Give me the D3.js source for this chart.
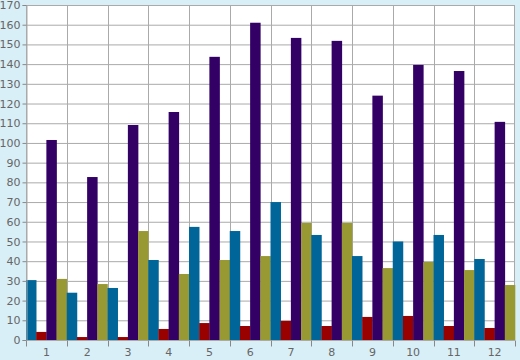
<!DOCTYPE html>
<html><head><meta charset="utf-8">
<script src="https://cdn.jsdelivr.net/npm/d3@7"></script>
<style>body{margin:0;background:#d9eff7;}svg{display:block;}</style>
</head><body>
<svg id="c" width="520" height="360"></svg>
<script>
const categories = ["1","2","3","4","5","6","7","8","9","10","11","12"];
const seriesNames = ["Teal","Red","Purple","Olive"];
const teal   = [30.4, 24, 26.4, 40.6, 57.4, 55.3, 70, 53.3, 42.6, 50, 53.3, 41.1];
const red    = [4.1, 1.5, 1.5, 5.6, 8.6, 7.1, 9.7, 7.1, 11.7, 12.2, 7.1, 6.1];
const purple = [101.5, 82.7, 109.1, 115.7, 143.7, 161, 153.3, 151.8, 124, 139.6, 136.5, 110.7];
const olive  = [31, 28.4, 55.3, 33.5, 40.6, 42.6, 59.4, 59.4, 36.5, 39.6, 35.5, 27.9];
const colors = ["#006699", "#990000", "#330066", "#999933"];
const yTicks = d3.range(0, 171, 10);

const seriesData = [teal, red, purple, olive];
const svg = d3.select("#c");
const L = 26, R = 515, T = 5, B = 340;
const x = d3.scaleBand().domain(categories).range([L, R]).padding(0);
const xs = d3.scaleBand().domain(seriesNames).range([0, x.bandwidth()]).padding(0);
const y = d3.scaleLinear().domain([0, 170]).range([B, T]);

svg.append("rect").attr("x", L).attr("y", T).attr("width", R - L).attr("height", B - T).attr("fill", "#fff");

// grid
svg.append("g").selectAll("line").data(yTicks).join("line")
  .attr("x1", L).attr("x2", R).attr("y1", d => y(d) + 0.5).attr("y2", d => y(d) + 0.5)
  .attr("stroke", "#aaaaaa").attr("stroke-width", 1);
svg.append("g").selectAll("line").data(categories).join("line")
  .attr("x1", d => Math.round(x(d)) + 0.5).attr("x2", d => Math.round(x(d)) + 0.5)
  .attr("y1", T).attr("y2", B).attr("stroke", "#aaaaaa");
svg.append("rect").attr("x", L + 0.5).attr("y", T + 0.5).attr("width", R - L - 1).attr("height", B - T)
  .attr("fill", "none").attr("stroke", "#aaaaaa");

// bars
const g = svg.append("g");
categories.forEach((c, i) => {
  seriesNames.forEach((s, j) => {
    const v = seriesData[j][i];
    g.append("rect")
      .attr("x", x(c) + xs(s)).attr("width", xs.bandwidth() + 0.3)
      .attr("y", y(v)).attr("height", B - y(v))
      .attr("fill", colors[j]);
  });
});

// axes
const yAxis = d3.axisLeft(y).tickValues(yTicks).tickSize(4).tickPadding(2);
const ya = svg.append("g").attr("transform", `translate(${L + 0.5},0)`).call(yAxis);
ya.select(".domain").attr("stroke", "#aaaaaa");
ya.selectAll(".tick line").attr("stroke", "#888");
ya.selectAll("text").attr("fill", "#666").style("font", "11px 'DejaVu Sans', Verdana, sans-serif");

const xb = svg.append("g").attr("transform", `translate(0,${B + 0.5})`);
xb.append("line").attr("x1", L).attr("x2", R).attr("stroke", "#aaaaaa");
const bounds = categories.map(c => x(c)).concat([R]);
xb.selectAll("line.t").data(bounds).join("line").attr("class", "t")
  .attr("x1", d => Math.round(d) + 0.5).attr("x2", d => Math.round(d) + 0.5)
  .attr("y1", 0).attr("y2", 6).attr("stroke", "#888");
xb.selectAll("text").data(categories).join("text")
  .attr("x", d => x(d) + x.bandwidth() / 2).attr("y", 15)
  .attr("text-anchor", "middle").attr("fill", "#666")
  .style("font", "11px 'DejaVu Sans', Verdana, sans-serif").text(d => d);
</script>
</body></html>
